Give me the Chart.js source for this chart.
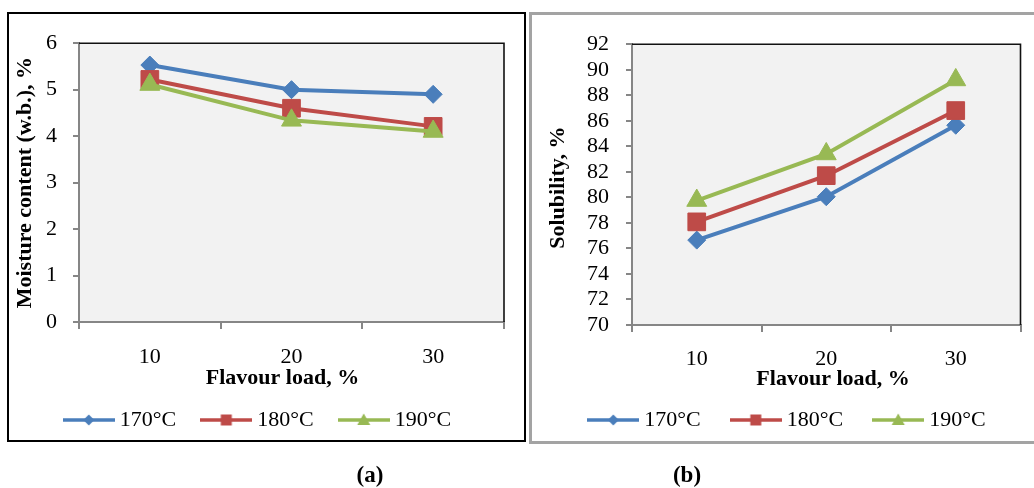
<!DOCTYPE html>
<html><head><meta charset="utf-8">
<script src="https://cdn.jsdelivr.net/npm/chart.js@4"></script>
<style>
html,body{margin:0;padding:0;background:#fff;width:1034px;height:488px;overflow:hidden;}
.box{position:absolute;box-sizing:border-box;}
#boxA{left:7px;top:12px;width:519px;height:430px;border:2px solid #000;}
#boxB{left:529px;top:12px;width:520px;height:432px;border:3px solid #a3a3a3;}
canvas{position:absolute;}
#cA{left:10px;top:14px;width:512px;height:450px;}
#cB{left:533px;top:14px;width:501px;height:450px;}
.cap{position:absolute;font:bold 23px 'Liberation Serif','Times New Roman',serif;line-height:26px;top:462px;transform:translateX(-50%);color:#000;}
</style></head><body>
<div class="box" id="boxA"></div>
<div class="box" id="boxB"></div>
<canvas id="cA" width="512" height="450"></canvas>
<canvas id="cB" width="501" height="450"></canvas>
<div class="cap" style="left:370px">(a)</div>
<div class="cap" style="left:687px">(b)</div>
<script>
// ---- data ----
const categories = ['10', '20', '30'];
const seriesLabels = ['170°C', '180°C', '190°C'];
const moisture170 = [5.53, 5.0, 4.9];
const moisture180 = [5.22, 4.6, 4.21];
const moisture190 = [5.11, 4.34, 4.1];
const solubility170 = [76.65, 80.05, 85.65];
const solubility180 = [78.08, 81.7, 86.8];
const solubility190 = [79.75, 83.4, 89.2];
const moistureTicks = [0, 1, 2, 3, 4, 5, 6];
const solubilityTicks = [70, 72, 74, 76, 78, 80, 82, 84, 86, 88, 90, 92];
const xTitle = 'Flavour load, %';
const yTitleA = 'Moisture content (w.b.), %';
const yTitleB = 'Solubility, %';

// ---- styles ----
const COLORS = ['#4A7EBB', '#BE4B48', '#98B954'];
const STYLES = ['rectRot', 'rect', 'triangle'];
const RADII = [9, 12.5, 11.5];
const FONT = "'Liberation Serif', 'Times New Roman', serif";
const AXIS = '#868686';
Chart.defaults.font.family = FONT;
Chart.defaults.color = '#000';

function legendImage(color, style) {
  const c = document.createElement('canvas');
  c.width = 52; c.height = 16;
  const g = c.getContext('2d');
  g.strokeStyle = color; g.lineWidth = 3.5;
  g.beginPath(); g.moveTo(0, 8); g.lineTo(52, 8); g.stroke();
  g.fillStyle = color;
  g.beginPath();
  if (style === 'rectRot') {
    g.moveTo(26, 2.5); g.lineTo(31.5, 8); g.lineTo(26, 13.5); g.lineTo(20.5, 8); g.closePath();
  } else if (style === 'rect') {
    g.rect(20.5, 2.5, 11, 11);
  } else {
    g.moveTo(26, 1.5); g.lineTo(32.5, 13); g.lineTo(19.5, 13); g.closePath();
  }
  g.fill();
  return c;
}
const legendImgs = COLORS.map((c, i) => legendImage(c, STYLES[i]));

function shiftTitle(scale, dx, dy) {
  if (scale._titleShifted) return;
  const orig = scale.drawTitle.bind(scale);
  scale.drawTitle = function () {
    const l = this.left, r = this.right, t = this.top, b = this.bottom;
    this.left += dx; this.right += dx; this.top += dy; this.bottom += dy;
    orig();
    this.left = l; this.right = r; this.top = t; this.bottom = b;
  };
  scale._titleShifted = true;
}

const plotFrame = {
  id: 'plotFrame',
  beforeDraw(chart) {
    const {ctx, chartArea: a} = chart;
    ctx.save();
    ctx.fillStyle = '#F2F2F2';
    ctx.fillRect(a.left, a.top, a.right - a.left, a.bottom - a.top);
    ctx.restore();
  },
  beforeDatasetsDraw(chart) {
    const {ctx, chartArea: a} = chart;
    ctx.save();
    ctx.strokeStyle = '#111';
    ctx.lineWidth = 1.6;
    ctx.beginPath();
    ctx.moveTo(a.left, a.top); ctx.lineTo(a.right, a.top); ctx.lineTo(a.right, a.bottom);
    ctx.stroke();
    ctx.restore();
  },
  afterLayout(chart, args, opts) {
    const lg = chart.legend;
    if (lg) {
      const h = lg.bottom - lg.top, w = lg.right - lg.left;
      lg.top = opts.legendTop; lg.bottom = lg.top + h;
      lg.left = opts.legendCenter - w / 2; lg.right = lg.left + w;
    }
    shiftTitle(chart.scales.x, opts.xTitleDx, 0);
    shiftTitle(chart.scales.y, 0, opts.yTitleDy);
  }
};

function makeChart(id, seriesData, ticks, yTitle, geo) {
  const datasets = seriesData.map((d, i) => ({
    label: seriesLabels[i],
    data: d,
    borderColor: COLORS[i],
    backgroundColor: COLORS[i],
    borderWidth: 4,
    pointStyle: STYLES[i],
    pointRadius: RADII[i],
    pointHoverRadius: RADII[i],
    pointBorderWidth: 1,
    pointBackgroundColor: COLORS[i],
    pointBorderColor: COLORS[i],
    tension: 0,
    order: 3 - i
  }));
  return new Chart(document.getElementById(id), {
    type: 'line',
    data: {labels: categories, datasets},
    plugins: [plotFrame],
    options: {
      responsive: false,
      animation: false,
      layout: {padding: {top: 28, left: 0, right: geo.padRight, bottom: geo.padBottom}},
      scales: {
        x: {
          type: 'category',
          offset: true,
          grid: {offset: true, drawOnChartArea: false, drawTicks: true, tickLength: 7, color: AXIS, lineWidth: 2},
          border: {display: true, color: AXIS, width: 2},
          ticks: {font: {size: 22}, color: '#000', padding: geo.xTickPad, maxRotation: 0, autoSkip: false},
          title: {display: true, text: xTitle, font: {size: 22, weight: 'bold'}, color: '#000', padding: {top: 0, bottom: 0}},
          afterFit(s) { s.height = geo.xHeight; }
        },
        y: {
          min: ticks[0],
          max: ticks[ticks.length - 1],
          ticks: {stepSize: ticks[1] - ticks[0], font: {size: 22}, color: '#000', padding: geo.yTickPad, autoSkip: false},
          grid: {drawOnChartArea: false, drawTicks: true, tickLength: 6, color: AXIS, lineWidth: 2},
          border: {display: true, color: AXIS, width: 2},
          title: {display: true, text: yTitle, font: {size: 22, weight: 'bold'}, color: '#000', padding: {top: geo.yTitlePad, bottom: 0}},
          afterFit(s) { s.width = geo.yWidth; }
        }
      },
      plugins: {
        tooltip: {enabled: false},
        plotFrame: {legendTop: geo.legendTop, legendCenter: geo.legendCenter, xTitleDx: geo.xTitleDx, yTitleDy: geo.yTitleDy},
        legend: {
          display: true,
          position: 'bottom',
          labels: {
            usePointStyle: true,
            pointStyleWidth: 40,
            padding: geo.legendPad,
            font: {size: 22},
            color: '#000',
            generateLabels: (chart) => chart.data.datasets.map((ds, i) => ({
              text: ds.label,
              pointStyle: legendImgs[i],
              datasetIndex: i,
              hidden: false,
              lineWidth: 0,
              fillStyle: ds.borderColor,
              strokeStyle: ds.borderColor,
              fontColor: '#000'
            }))
          }
        }
      }
    }
  });
}

makeChart('cA', [moisture170, moisture180, moisture190], moistureTicks, yTitleA, {
  padRight: 18, padBottom: 10, xHeight: 70, xTickPad: 15, xTitleDx: -9,
  yWidth: 69, yTickPad: 16, yTitlePad: 2, yTitleDy: 0,
  legendPad: 30, legendTop: 365, legendCenter: 250
});
makeChart('cB', [solubility170, solubility180, solubility190], solubilityTicks, yTitleB, {
  padRight: 3, padBottom: 4, xHeight: 68, xTickPad: 14.5, xTitleDx: 6.8,
  yWidth: 99, yTickPad: 17, yTitlePad: 12, yTitleDy: 3,
  legendPad: 35, legendTop: 360, legendCenter: 256.5
});
</script>
</body></html>
